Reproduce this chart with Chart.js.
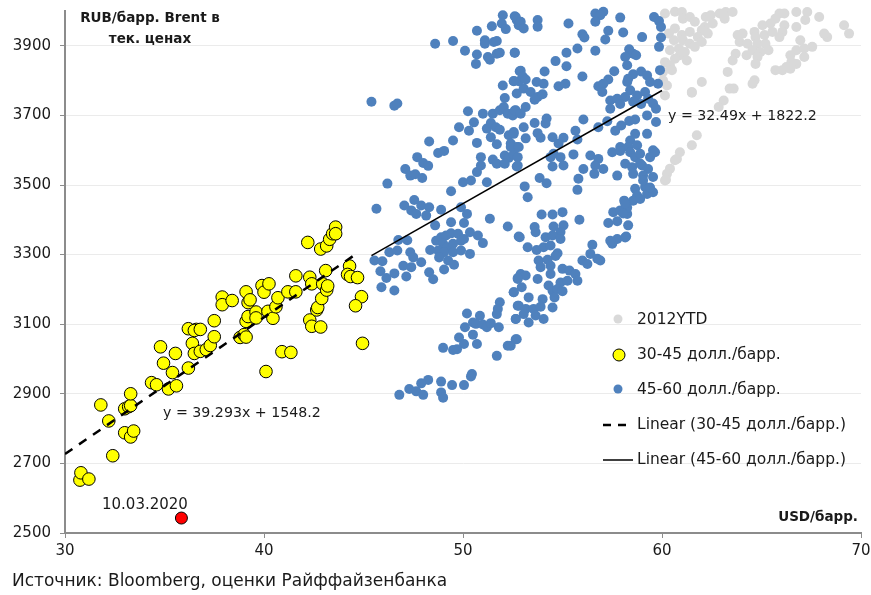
<!DOCTYPE html>
<html>
<head>
<meta charset="utf-8">
<script src="https://cdn.jsdelivr.net/npm/chart.js@4"></script>
<style>
  body { margin: 0; background: #fff; }
  #wrap { width: 871px; height: 595px; }
</style>
</head>
<body>
<div id="wrap"><canvas id="myChart"></canvas></div>
<script>
// tick labels
var xTicks = [30, 40, 50, 60, 70];
var yTicks = [2500, 2700, 2900, 3100, 3300, 3500, 3700, 3900];

// trend lines: [slope, intercept, xFrom, xTo]
var trend3045 = [39.293, 1548.2, 30, 44.7];
var trend4560 = [32.49, 1822.2, 45.4, 60];

// 10.03.2020
var redPoint = [[35.85, 2543]];

// 30-45 USD/bbl
var yellowSeries = [
  [30.75,2652],[30.8,2673],[31.2,2655],[32.4,2722],[31.8,2868],[32.2,2822],[33.0,2857],[33.2,2863],[33.3,2866],
  [33.3,2900],[33.0,2788],[33.3,2776],[33.45,2793],[34.35,2932],[34.6,2926],[35.2,2914],[35.6,2923],
  [34.8,3035],[34.95,2988],[35.4,2961],[35.55,3016],[36.2,2974],[36.2,3087],[36.4,3045],[36.5,3016],[36.6,3085],
  [36.5,3082],[36.8,3085],[36.8,3022],[37.1,3027],[37.3,3039],[37.5,3064],[37.5,3110],[37.9,3178],[37.9,3156],
  [38.4,3168],[38.8,3062],[39.0,3070],[39.1,3063],[39.1,3193],[39.2,3162],[39.3,3170],[39.1,3108],[39.2,3122],
  [39.6,3135],[39.6,3118],[39.9,3211],[40.0,3192],[40.25,3216],[40.1,2964],[40.2,3137],[40.45,3117],[40.6,3150],
  [40.7,3176],[40.9,3021],[41.35,3019],[41.2,3193],[41.6,3193],[41.6,3239],[42.2,3335],[42.3,3235],[42.4,3216],
  [42.3,3112],[42.4,3094],[42.85,3092],[42.65,3141],[42.7,3148],[42.9,3174],[42.95,3216],[43.15,3198],[43.2,3210],
  [43.1,3254],[42.85,3316],[43.15,3325],[43.3,3344],[43.45,3360],[43.6,3379],[43.6,3360],[44.3,3267],[44.2,3243],
  [44.35,3237],[44.7,3234],[44.9,3179],[44.6,3153],[44.95,3045]
];

// 45-60 USD/bbl
var blueSeries = [
  [52.0,3988],[52.6,3985],[52.7,3974],[52.8,3959],[51.45,3956],[51.95,3964],[52.15,3948],[50.7,3943],[51.1,3916],
  [51.1,3906],[51.55,3911],[51.7,3914],[48.6,3906],[49.5,3914],[50.1,3886],[50.7,3875],[51.25,3868],[51.35,3860],
  [51.7,3877],[51.85,3880],[52.6,3880],[50.65,3848],[52.85,3827],[52.55,3798],[52.8,3798],[52.0,3786],[52.7,3763],
  [52.1,3750],[45.4,3739],[46.55,3728],[46.7,3734],[50.25,3712],[51.0,3705],[51.5,3705],[51.85,3715],[52.05,3724],
  [52.25,3705],[52.5,3700],[52.65,3715],[50.55,3680],[49.8,3666],[50.3,3656],[51.2,3662],[51.4,3678],[51.65,3666],
  [51.85,3659],[51.4,3637],[52.3,3643],[52.55,3652],[48.3,3625],[49.5,3628],[50.7,3621],[51.7,3617],[52.4,3619],
  [52.7,3609],[48.75,3592],[49.05,3598],[47.7,3580],[48.0,3563],[48.25,3555],[50.9,3580],[51.5,3573],[51.7,3561],
  [52.1,3585],[52.3,3578],[52.55,3588],[52.75,3580],[52.1,3561],[52.7,3553],[47.1,3546],[47.35,3527],[47.6,3531],
  [47.95,3520],[46.2,3504],[49.4,3482],[50.0,3508],[50.4,3513],[50.7,3537],[50.9,3556],[51.2,3508],[47.55,3457],
  [45.65,3432],[47.05,3441],[47.4,3427],[47.65,3417],[47.9,3441],[48.3,3436],[48.9,3429],[48.15,3412],[48.6,3384],
  [49.4,3393],[49.9,3436],[50.2,3417],[50.05,3391],[51.35,3403],[52.25,3381],[46.75,3342],[47.2,3341],[46.3,3307],
  [46.7,3312],[45.55,3283],[45.95,3281],[47.35,3307],[47.5,3292],[47.0,3268],[47.4,3264],[47.9,3278],[46.55,3246],
  [45.85,3252],[46.15,3233],[47.15,3237],[48.3,3249],[48.5,3229],[45.9,3206],[46.55,3197],[48.35,3313],[48.65,3340],
  [48.9,3350],[49.15,3355],[49.4,3361],[49.75,3360],[49.9,3340],[50.05,3345],[49.0,3331],[49.2,3321],[49.5,3331],
  [48.75,3312],[49.05,3307],[49.5,3307],[49.9,3312],[48.8,3292],[49.25,3283],[49.55,3271],[49.05,3257],[50.35,3302],
  [50.35,3364],[50.75,3355],[51.0,3333],[52.8,3352],[52.75,3230],[52.55,3192],[51.85,3163],[51.75,3144],[51.7,3129],
  [52.75,3153],[52.65,3115],[50.2,3131],[50.85,3124],[50.5,3105],[50.65,3101],[51.0,3099],[51.2,3091],[51.4,3103],
  [51.8,3091],[50.1,3091],[49.8,3062],[50.5,3070],[50.7,3043],[50.05,3043],[49.7,3028],[49.5,3026],[49.0,3032],
  [52.25,3038],[52.7,3057],[51.7,3009],[50.45,2957],[50.4,2950],[48.25,2940],[47.9,2930],[48.9,2935],[49.45,2925],
  [50.05,2925],[47.3,2914],[47.65,2907],[46.8,2897],[48.0,2897],[48.9,2904],[49.0,2889],
  [56.65,3993],[57.05,3998],[56.9,3988],[56.65,3969],[57.9,3981],[59.6,3983],[59.85,3971],[59.95,3954],[52.65,3983],
  [52.9,3969],[53.05,3950],[53.75,3974],[53.75,3955],[55.3,3964],[57.3,3943],[58.05,3938],[56.0,3933],[56.1,3924],
  [57.15,3918],[59.0,3925],[59.95,3924],[59.85,3897],[55.75,3892],[56.65,3886],[55.2,3880],[52.6,3880],[58.35,3890],
  [58.55,3877],[58.7,3873],[58.15,3868],[54.65,3856],[55.2,3841],[58.25,3844],[59.9,3830],[52.9,3828],[54.1,3826],
  [57.6,3827],[58.55,3818],[58.95,3826],[53.0,3812],[53.15,3803],[56.0,3812],[57.3,3803],[58.3,3805],[59.25,3815],
  [52.55,3799],[53.7,3796],[54.05,3791],[54.8,3784],[55.15,3791],[56.8,3784],[57.05,3791],[58.25,3796],[59.4,3796],
  [59.8,3791],[53.05,3777],[53.4,3767],[53.75,3753],[54.0,3761],[53.6,3745],[57.0,3767],[57.4,3743],[57.75,3748],
  [58.15,3753],[58.4,3772],[58.75,3757],[59.15,3767],[59.3,3748],[57.4,3719],[57.9,3733],[58.55,3739],[58.95,3733],
  [59.55,3734],[59.7,3719],[52.6,3714],[53.15,3724],[52.9,3705],[59.25,3700],[58.35,3684],[58.65,3688],[59.7,3681],
  [57.95,3671],[54.2,3691],[56.05,3688],[54.15,3677],[53.6,3678],[53.05,3666],[57.25,3683],[56.8,3666],[57.65,3656],
  [55.65,3656],[53.75,3649],[52.55,3647],[53.15,3634],[53.9,3636],[54.5,3637],[55.05,3636],[55.75,3631],[58.65,3647],
  [59.25,3647],[58.4,3628],[57.9,3609],[58.3,3609],[58.75,3614],[59.55,3600],[54.8,3619],[52.4,3609],[52.8,3609],
  [54.4,3580],[54.55,3590],[54.9,3580],[55.55,3588],[56.4,3585],[56.8,3575],[57.5,3594],[57.9,3598],[58.4,3594],
  [58.65,3580],[58.9,3590],[59.4,3580],[59.65,3594],[52.75,3556],[54.5,3553],[55.05,3556],[56.05,3546],[56.65,3556],
  [57.05,3546],[58.15,3561],[58.5,3551],[59.0,3556],[59.3,3546],[53.85,3520],[54.2,3505],[55.8,3518],[56.6,3532],
  [57.75,3527],[58.55,3532],[59.05,3527],[59.55,3523],[53.1,3496],[55.75,3486],[58.65,3489],[59.15,3494],[58.75,3470],
  [59.25,3474],[59.55,3479],[53.25,3465],
  [53.95,3415],[54.5,3415],[55.0,3422],[55.85,3400],[53.6,3379],[54.55,3381],[55.05,3384],[53.65,3364],[54.9,3365],
  [52.85,3350],[54.15,3350],[54.5,3355],[54.9,3345],[57.55,3422],[57.9,3427],[58.25,3417],[57.3,3391],[57.75,3396],
  [58.3,3384],[58.2,3352],[57.5,3331],[57.75,3345],[53.25,3321],[53.7,3313],[54.05,3321],[54.4,3326],[54.75,3304],
  [54.65,3296],[56.5,3328],[56.4,3302],[56.0,3283],[56.25,3273],[56.75,3288],[56.9,3283],[53.8,3283],[54.25,3285],
  [53.9,3264],[54.4,3268],[55.0,3259],[55.35,3254],[55.65,3244],[52.9,3244],[53.15,3240],[52.75,3233],[53.75,3230],
  [54.4,3244],[54.9,3220],[55.25,3225],[55.75,3225],[54.3,3211],[54.5,3196],[54.75,3201],[55.0,3195],[52.95,3206],
  [52.55,3192],[54.6,3177],[53.3,3177],[54.0,3172],[52.8,3153],[53.15,3144],[53.55,3144],[53.9,3150],[54.5,3148],
  [53.05,3129],[53.65,3125],[52.65,3115],[53.3,3105],[54.05,3115],[52.65,3057],[52.4,3038],
  [58.9,3562],[59.05,3513],[59.4,3493],[58.55,3455],[58.25,3435],[58.05,3418],[57.4,3340],[58.15,3349],[58.1,3455],
  [58.9,3460],[58.15,3447]
];

// 2012YTD
var graySeries = [
  [60.15,3993],[60.65,3998],[61.0,3997],[61.05,3978],[61.4,3983],[61.65,3969],[62.2,3983],[62.45,3988],[62.9,3993],
  [63.2,3997],[63.55,3997],[63.15,3978],[62.55,3964],[62.15,3954],[62.0,3945],[60.65,3950],[60.35,3935],[61.0,3931],
  [61.4,3940],[61.8,3925],[62.3,3935],[60.6,3916],[61.05,3916],[61.4,3906],[62.0,3911],[61.65,3897],[60.4,3887],
  [60.85,3892],[61.15,3882],[60.9,3873],[60.65,3863],[61.25,3858],[60.15,3853],[60.4,3844],[60.5,3830],[60.05,3825],
  [60.05,3801],[62.0,3796],[61.5,3767],[60.15,3757],[63.4,3777],[63.1,3743],[62.85,3724],[61.75,3643],[61.5,3614],
  [60.9,3594],[60.65,3571],[60.4,3547],[60.25,3532],[60.15,3513],
  [65.9,3993],[66.15,3993],[66.75,3997],[67.3,3997],[67.9,3983],[65.7,3978],[65.45,3964],[66.15,3959],[66.75,3954],
  [67.2,3974],[69.15,3959],[69.4,3935],[68.3,3925],[68.15,3935],[65.05,3959],[64.65,3940],[64.05,3935],[63.8,3931],
  [64.7,3925],[65.15,3931],[65.55,3940],[66.05,3940],[65.9,3925],[63.9,3911],[64.3,3906],[64.8,3906],[65.2,3906],
  [66.95,3916],[67.55,3897],[67.15,3892],[66.75,3887],[64.55,3887],[64.95,3882],[65.35,3887],[63.7,3877],[64.25,3873],
  [64.8,3868],[66.45,3873],[67.15,3868],[63.55,3858],[64.7,3848],[66.75,3848],[66.5,3853],[66.25,3839],[65.7,3830],
  [66.05,3830],[66.45,3834],[63.3,3825],[64.65,3801],[60.25,3786],[61.5,3765],[63.6,3777],[64.55,3791],[60.75,3575],
  [60.2,3515]
];

var FONT = '"DejaVu Sans", "Noto Sans", sans-serif';

function pts(arr) {
    return arr.map(function (p) { return { x: p[0], y: p[1] }; });
}

function trendPts(t) {
    return [{ x: t[2], y: t[0] * t[2] + t[1] }, { x: t[3], y: t[0] * t[3] + t[1] }];
}

var textPlugin = {
    id: 'texts',
    afterDraw: function (chart) {
        var ctx = chart.ctx;
        ctx.save();
        ctx.textBaseline = 'middle';
        ctx.fillStyle = '#1a1a1a';

        ctx.font = 'bold 13.5px ' + FONT;
        ctx.textAlign = 'center';
        ctx.fillText('RUB/барр. Brent в', 150, 18);
        ctx.fillText('тек. ценах', 150, 39);
        ctx.textAlign = 'right';
        ctx.fillText('USD/барр.', 858, 517);

        ctx.font = '14.2px ' + FONT;
        ctx.textAlign = 'left';
        ctx.fillText('y = 32.49x + 1822.2', 668, 116);
        ctx.fillText('y = 39.293x + 1548.2', 163, 413);
        ctx.font = '15px ' + FONT;
        ctx.fillText('10.03.2020', 102, 505);

        ctx.font = '17px ' + FONT;
        ctx.fillText('Источник: Bloomberg, оценки Райффайзенбанка', 12, 582);

        // legend
        ctx.font = '15.5px ' + FONT;
        var lx = 637;
        ctx.fillStyle = '#d9d9d9';
        ctx.beginPath(); ctx.arc(618, 319, 4.5, 0, Math.PI * 2); ctx.fill();
        ctx.fillStyle = '#ffff00'; ctx.strokeStyle = '#000'; ctx.lineWidth = 1;
        ctx.beginPath(); ctx.arc(619, 355, 6, 0, Math.PI * 2); ctx.fill(); ctx.stroke();
        ctx.fillStyle = '#4f81bd';
        ctx.beginPath(); ctx.arc(618, 389, 4.5, 0, Math.PI * 2); ctx.fill();
        ctx.strokeStyle = '#000';
        ctx.lineWidth = 2.5;
        ctx.setLineDash([8, 7]);
        ctx.beginPath(); ctx.moveTo(603, 425); ctx.lineTo(633, 425); ctx.stroke();
        ctx.setLineDash([]);
        ctx.lineWidth = 1.5;
        ctx.beginPath(); ctx.moveTo(603, 460); ctx.lineTo(633, 460); ctx.stroke();

        ctx.fillStyle = '#1a1a1a';
        ctx.fillText('2012YTD', lx, 320);
        ctx.fillText('30-45 долл./барр.', lx, 355);
        ctx.fillText('45-60 долл./барр.', lx, 390);
        ctx.fillText('Linear (30-45 долл./барр.)', lx, 425);
        ctx.fillText('Linear (45-60 долл./барр.)', lx, 460);
        ctx.restore();
    }
};

var data = {
    datasets: [
        { type: 'line', label: 'Linear (30-45)', data: trendPts(trend3045), borderColor: '#000', borderWidth: 2.5,
          borderDash: [9, 8], pointRadius: 0, fill: false, order: 0 },
        { type: 'line', label: 'Linear (45-60)', data: trendPts(trend4560), borderColor: '#000', borderWidth: 1.5,
          pointRadius: 0, fill: false, order: 0 },
        { label: '10.03.2020', data: pts(redPoint), backgroundColor: '#ff0000', borderColor: '#000', borderWidth: 1,
          pointRadius: 6, order: 1, clip: false },
        { label: '30-45 долл./барр.', data: pts(yellowSeries), backgroundColor: '#ffff00', borderColor: '#000',
          borderWidth: 1, pointRadius: 6.3, order: 2, clip: false },
        { label: '45-60 долл./барр.', data: pts(blueSeries), backgroundColor: '#4f81bd', borderWidth: 0,
          pointRadius: 5, order: 3, clip: false },
        { label: '2012YTD', data: pts(graySeries), backgroundColor: '#d9d9d9', borderWidth: 0,
          pointRadius: 5, order: 4, clip: false }
    ]
};

function plain(v) { return String(v); }

var config = {
    type: 'scatter',
    data: data,
    options: {
        responsive: true,
        maintainAspectRatio: false,
        animation: false,
        layout: { padding: { left: 0, right: 10, top: 11, bottom: 0 } },
        plugins: { legend: { display: false }, tooltip: { enabled: false } },
        scales: {
            x: {
                type: 'linear', min: 30, max: 70,
                afterBuildTicks: function (s) { s.ticks = xTicks.map(function (v) { return { value: v }; }); },
                afterFit: function (s) { s.height = 62; s.paddingLeft = 0; s.paddingRight = 0; },
                grid: { drawOnChartArea: false, drawTicks: true, tickLength: 5, tickColor: '#8c8c8c' },
                border: { color: '#8c8c8c', width: 2 },
                ticks: { color: '#1a1a1a', font: { family: FONT, size: 15 }, padding: 4, maxRotation: 0, callback: plain }
            },
            y: {
                type: 'linear', min: 2500, max: 4000,
                afterBuildTicks: function (s) { s.ticks = yTicks.map(function (v) { return { value: v }; }); },
                afterFit: function (s) { s.width = 65; s.paddingTop = 0; s.paddingBottom = 0; },
                grid: { color: '#ebebeb', lineWidth: 1, drawTicks: true, tickLength: 5, tickColor: '#8c8c8c' },
                border: { color: '#8c8c8c', width: 2 },
                ticks: { color: '#1a1a1a', font: { family: FONT, size: 15 }, padding: 9, callback: plain }
            }
        }
    },
    plugins: [textPlugin]
};

var c = document.getElementById('myChart').getContext('2d');
var chart = new Chart(c, config);
</script>
</body>
</html>
